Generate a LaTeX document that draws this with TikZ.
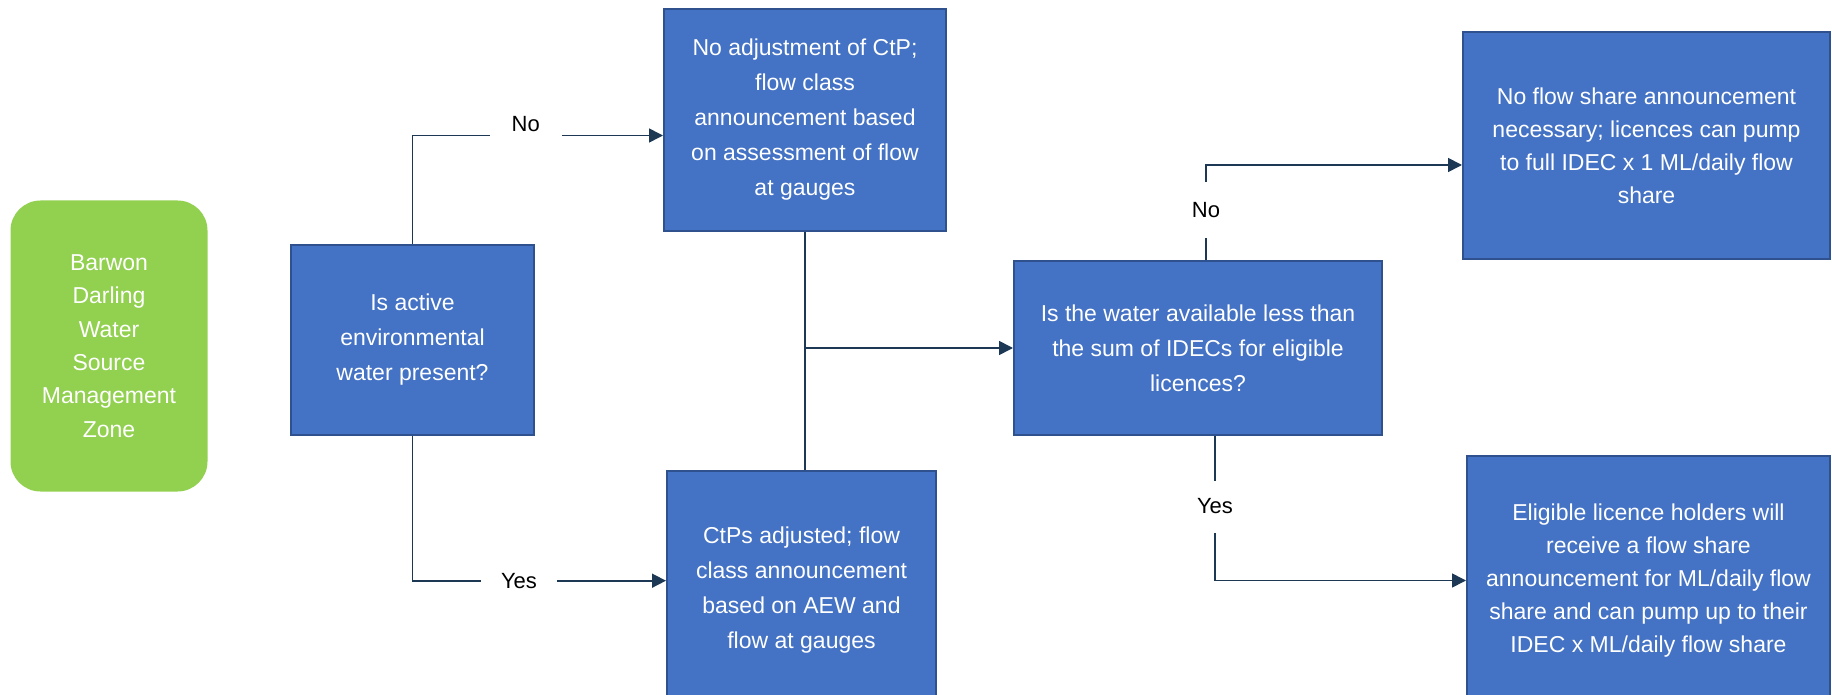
\documentclass[tikz,border=0pt]{standalone}
\usepackage{fontspec}
\setmainfont{Liberation Sans}
\usetikzlibrary{arrows.meta}

\definecolor{boxblue}{RGB}{68,114,196}
\definecolor{boxedge}{RGB}{47,82,143}
\definecolor{zonegreen}{RGB}{146,208,80}
\definecolor{linkcol}{RGB}{28,56,84}

\begin{document}
\begin{tikzpicture}[x=0.5pt,y=-0.5pt, %Flujo de anuncios de clase de flujo
    bluebox/.style={draw=boxedge, line width=1pt, fill=boxblue, text=white, align=center, inner sep=0pt,
        font=\fontsize{11.5}{17.5}\selectfont},
    zone/.style={fill=zonegreen, rounded corners=15pt, text=white, align=center, inner sep=0pt,
        font=\fontsize{11.5}{16.7}\selectfont},
    linkline/.style={draw=linkcol, line width=0.8pt},
    linkarrow/.style={linkline, -{Triangle[length=7pt,width=7pt]}},
    lbl/.style={fill=white, inner sep=0pt, text=black, font=\fontsize{11}{13}\selectfont}]
        \useasboundingbox (0,0) rectangle (1832,695);

        \node[zone, minimum width=98.5pt, minimum height=145.5pt] (bdz) at (109,346)
            {Barwon\\ Darling\\ Water\\ Source\\ Management\\ Zone};

        \node[bluebox, minimum width=121.5pt, minimum height=95pt] (aew) at (412.5,340)
            {Is active\\ environmental\\ water present?};
        \node[bluebox, minimum width=141pt, minimum height=111pt] (noadj) at (805,120)
            {No adjustment of CtP;\\ flow class\\ announcement based\\ on assessment of flow\\ at gauges};
        \node[bluebox, minimum width=134.5pt, minimum height=119.5pt] (adj) at (801.5,590.5)
            {CtPs adjusted; flow\\ class announcement\\ based on AEW and\\ flow at gauges};
        \node[bluebox, minimum width=184pt, minimum height=87pt] (avail) at (1198,348)
            {Is the water available less than\\ the sum of IDECs for eligible\\ licences?};
        \node[bluebox, minimum width=183.5pt, minimum height=113.5pt, font=\fontsize{11.5}{16.5}\selectfont] (nofs) at (1646.5,145.5)
            {No flow share announcement\\ necessary; licences can pump\\ to full IDEC x 1 ML/daily flow\\ share};
        \node[bluebox, minimum width=181.5pt, minimum height=124.5pt, font=\fontsize{11.5}{16.5}\selectfont] (fs) at (1648.5,580.5)
            {Eligible licence holders will\\ receive a flow share\\ announcement for ML/daily flow\\ share and can pump up to their\\ IDEC x ML/daily flow share};

        \draw[linkarrow] (aew.north) |- ([yshift=-7.75pt]noadj.west)
            node[lbl, pos=0.726, yshift=5.75pt, minimum width=36pt, minimum height=20pt] (lno1) {No};
        \draw[linkarrow] (aew.south) |- ([yshift=4.9pt]adj.west)
            node[lbl, pos=0.71, minimum width=38pt, minimum height=16pt] (lyes1) {Yes};

        \draw[linkline] (noadj.south) -- (noadj.south |- adj.north);
        \draw[linkarrow] (noadj.south |- avail.west) -- (avail.west);

        \draw[linkarrow] ([xshift=4pt]avail.north) |- ([yshift=-9.75pt]nofs.west)
            node[lbl, pos=0.265, minimum width=20pt, minimum height=28pt] (lno2) {No};
        \draw[linkarrow] ([xshift=8.5pt]avail.south) |- (fs.west)
            node[lbl, pos=0.244, minimum width=20pt, minimum height=26pt] (lyes2) {Yes};
    \end{tikzpicture}
\end{document}
